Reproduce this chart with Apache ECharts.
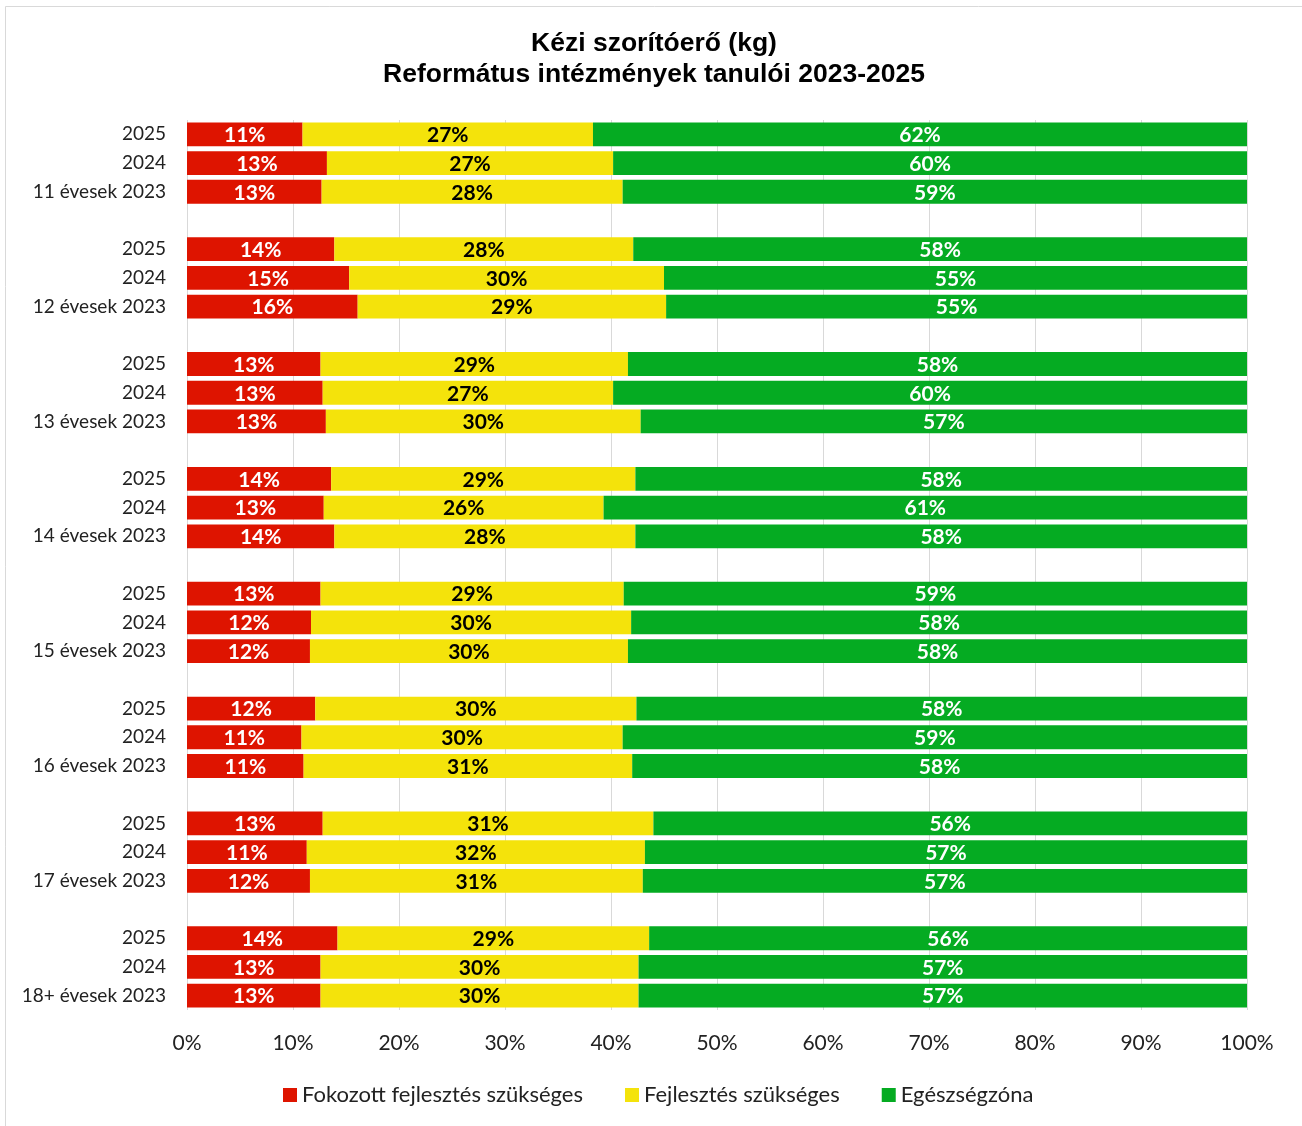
<!DOCTYPE html>
<html>
<head>
<meta charset="utf-8">
<script src="https://cdn.jsdelivr.net/npm/echarts@6/dist/echarts.min.js"></script>
<style>
  html, body { margin: 0; padding: 0; background: #fff; }
  #chart { width: 1302px; height: 1126px; }
</style>
</head>
<body>
<div id="chart"></div>
<script>
// groups top to bottom, years inside each group
var groups = ['11 évesek', '12 évesek', '13 évesek', '14 évesek', '15 évesek', '16 évesek', '17 évesek', '18+ évesek']
var years = ['2025', '2024', '2023']
var seriesNames = ['Fokozott fejlesztés szükséges', 'Fejlesztés szükséges', 'Egészségzóna']

// percentages, order: group by group, 2025 / 2024 / 2023
var fokozott = [10.9, 13.2, 12.7, 13.9, 15.3, 16.1, 12.6, 12.8, 13.1, 13.6, 12.9, 13.9,
  12.6, 11.7, 11.6, 12.1, 10.8, 11.0, 12.8, 11.3, 11.6, 14.2, 12.6, 12.6]
var fejlesztes = [27.4, 27.0, 28.4, 28.2, 29.7, 29.1, 29.0, 27.4, 29.7, 28.7, 26.4, 28.4,
  28.6, 30.2, 30.0, 30.3, 30.3, 31.0, 31.2, 31.9, 31.4, 29.4, 30.0, 30.0]
var egeszseg = [61.7, 59.8, 58.9, 57.9, 55.0, 54.8, 58.4, 59.8, 57.2, 57.7, 60.7, 57.7,
  58.8, 58.1, 58.4, 57.6, 58.9, 58.0, 56.0, 56.8, 57.0, 56.4, 57.4, 57.4]

var xTicks = [0, 10, 20, 30, 40, 50, 60, 70, 80, 90, 100]

// build the category rows with an empty row between groups
var rowKeys = []
var rowLabels = []
var rowIndex = []
groups.forEach(function (g, gi) {
  if (gi > 0) {
    rowKeys.push('gap' + gi)
    rowLabels.push('')
    rowIndex.push(-1)
  }
  years.forEach(function (y, yi) {
    rowKeys.push(g + '|' + y)
    rowLabels.push(y === '2023' ? g + ' 2023' : y)
    rowIndex.push(gi * years.length + yi)
  })
})

function rows (values) {
  return rowIndex.map(function (i) { return i < 0 ? '-' : values[i] })
}

var font = 'Lato, "Noto Sans", sans-serif'

function makeSeries (name, values, color, labelColor) {
  return {
    name: name,
    type: 'bar',
    stack: 'total',
    barCategoryGap: '17%',
    itemStyle: { color: color },
    label: {
      show: true,
      position: 'inside',
      offset: [0, 1],
      color: labelColor,
      fontFamily: font,
      fontWeight: 'bold',
      fontSize: 21,
      formatter: function (p) { return Math.round(p.value) + '%' }
    },
    emphasis: { disabled: true },
    data: rows(values)
  }
}

var chart = echarts.init(document.getElementById('chart'))
var option = {
  animation: false,
  backgroundColor: '#fff',
  title: {
    text: 'Kézi szorítóerő (kg)\nReformátus intézmények tanulói 2023-2025',
    left: 649,
    top: 23,
    textAlign: 'center',
    textStyle: {
      fontFamily: '"Liberation Sans", Arial, sans-serif',
      fontWeight: 'bold',
      fontSize: 26.5,
      lineHeight: 31,
      color: '#000'
    }
  },
  graphic: [{
    type: 'rect',
    shape: { x: 5.5, y: 6.5, width: 1310, height: 1140 },
    style: { fill: null, stroke: '#d9d9d9', lineWidth: 1 },
    silent: true
  }],
  legend: {
    data: seriesNames,
    left: 278,
    top: 1079,
    itemWidth: 14,
    itemHeight: 14,
    itemGap: 42,
    icon: 'rect',
    textStyle: { fontFamily: font, fontSize: 22, color: '#222' }
  },
  grid: { left: 187, right: 55, top: 120, bottom: 116 },
  xAxis: {
    type: 'value',
    min: xTicks[0],
    max: xTicks[xTicks.length - 1],
    interval: 10,
    axisLine: { show: false },
    axisTick: { show: false },
    splitLine: { lineStyle: { color: '#d9d9d9', width: 1 } },
    axisLabel: {
      margin: 23,
      fontFamily: font,
      fontSize: 21,
      color: '#222',
      formatter: '{value}%'
    }
  },
  yAxis: {
    type: 'category',
    inverse: true,
    data: rowKeys,
    axisLine: { show: false },
    axisTick: { show: false },
    axisLabel: {
      margin: 21,
      fontFamily: font,
      fontSize: 19,
      color: '#222',
      formatter: function (v, i) { return rowLabels[i] }
    }
  },
  series: [
    makeSeries(seriesNames[0], fokozott, '#de1400', '#fff'),
    makeSeries(seriesNames[1], fejlesztes, '#f4e30b', '#000'),
    makeSeries(seriesNames[2], egeszseg, '#05ab22', '#fff')
  ]
}
chart.setOption(option)
</script>
</body>
</html>
